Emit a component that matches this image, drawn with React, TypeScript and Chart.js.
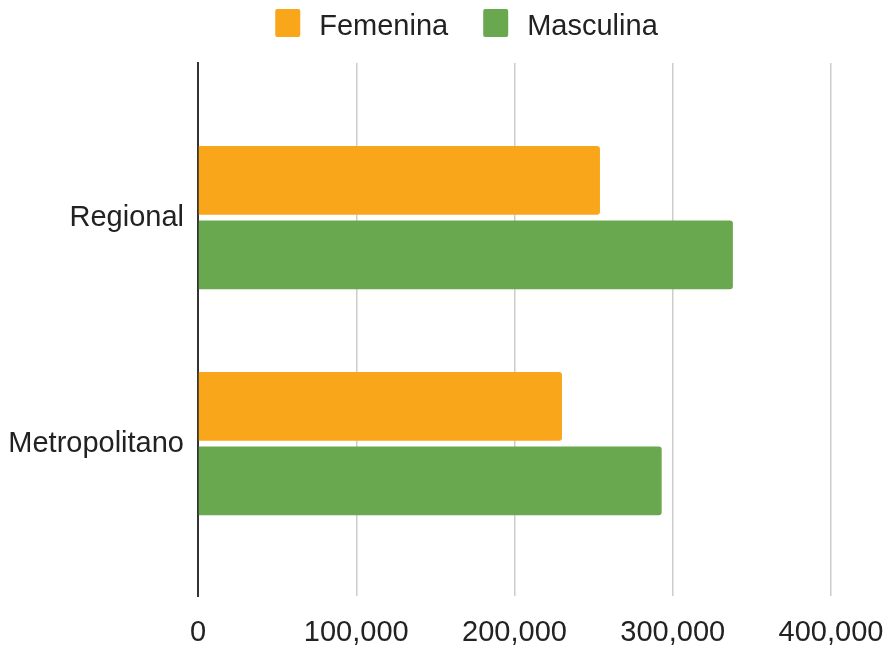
import React, { useEffect, useRef } from 'react';
import { Chart, registerables } from 'chart.js';

Chart.register(...registerables);

// ---- data ----
const categories = ['Regional', 'Metropolitano'];
const seriesNames = ['Femenina', 'Masculina'];
const femenina = [254000, 230000];
const masculina = [338000, 293000];
const xTicks = [0, 100000, 200000, 300000, 400000];
const seriesColors = ['#F9A61B', '#6AA84F'];

const FONT_FAMILY = '"Liberation Sans", Arial, Helvetica, sans-serif';
const FONT_SIZE = 29;
const TEXT_COLOR = '#222222';

const legendPlugin = {
  id: 'customLegend',
  afterDraw(chart: any) {
    const ctx = chart.ctx as CanvasRenderingContext2D;
    ctx.save();
    ctx.font = `${FONT_SIZE}px ${FONT_FAMILY}`;
    const boxW = 25;
    const boxH = 28;
    const gapText = 19;
    const gapItem = 35;
    const items = chart.data.datasets.map((ds: any) => ({
      text: ds.label as string,
      color: ds.backgroundColor as string,
      w: ctx.measureText(ds.label).width,
    }));
    const total = items.reduce(
      (s: number, it: any, i: number) => s + boxW + gapText + it.w + (i > 0 ? gapItem : 0),
      0
    );
    let x = chart.width / 2 + 23 - total / 2;
    const top = 9;
    for (const it of items) {
      ctx.fillStyle = it.color;
      ctx.beginPath();
      if ((ctx as any).roundRect) {
        (ctx as any).roundRect(x, top, boxW, boxH, 2);
      } else {
        ctx.rect(x, top, boxW, boxH);
      }
      ctx.fill();
      ctx.fillStyle = TEXT_COLOR;
      ctx.textBaseline = 'alphabetic';
      ctx.textAlign = 'left';
      ctx.fillText(it.text, x + boxW + gapText, 35);
      x += boxW + gapText + it.w + gapItem;
    }
    ctx.restore();
  },
};

export default function App() {
  const ref = useRef<HTMLCanvasElement>(null);

  useEffect(() => {
    document.body.style.margin = '0';
    const font = { family: FONT_FAMILY, size: FONT_SIZE };
    const chart = new Chart(ref.current as HTMLCanvasElement, {
      type: 'bar',
      data: {
        datasets: [
          {
            label: seriesNames[0],
            data: femenina.map((v, i) => ({ x: v, y: i })),
            backgroundColor: seriesColors[0],
          },
          {
            label: seriesNames[1],
            data: masculina.map((v, i) => ({ x: v, y: i })),
            backgroundColor: seriesColors[1],
          },
        ],
      },
      plugins: [legendPlugin],
      options: {
        indexAxis: 'y',
        responsive: false,
        animation: false,
        layout: { padding: { top: 63, left: 0, right: 56, bottom: 0 } },
        datasets: {
          bar: {
            categoryPercentage: 0.66,
            barPercentage: 0.923,
            borderRadius: 3,
            borderWidth: 0,
          },
        },
        plugins: {
          legend: { display: false },
          tooltip: { enabled: false },
        },
        scales: {
          x: {
            type: 'linear',
            position: 'bottom',
            min: 0,
            max: 400000,
            afterBuildTicks: (scale: any) => {
              scale.ticks = xTicks.map((v) => ({ value: v }));
            },
            afterFit: (scale: any) => {
              scale.height = 56;
              scale.paddingLeft = 0;
              scale.paddingRight = 0;
            },
            ticks: {
              font,
              color: TEXT_COLOR,
              padding: 20,
              maxRotation: 0,
              callback: (v: any) => Number(v).toLocaleString('en-US'),
            },
            grid: { color: '#cccccc', lineWidth: 1.5, drawTicks: false },
            border: { display: false },
          },
          y: {
            type: 'linear',
            position: 'left',
            reverse: true,
            offset: false,
            min: -0.685,
            max: 1.675,
            afterBuildTicks: (scale: any) => {
              scale.ticks = categories.map((_, i) => ({ value: i }));
            },
            afterFit: (scale: any) => {
              scale.width = 198;
            },
            ticks: {
              font,
              color: TEXT_COLOR,
              padding: 14,
              callback: (v: any) => categories[Number(v)] ?? '',
            },
            grid: { display: false, drawTicks: false, offset: false },
            border: { display: true, color: '#333333', width: 2 },
          },
        },
      },
    } as any);
    return () => chart.destroy();
  }, []);

  return (
    <canvas
      ref={ref}
      width={887}
      height={652}
      style={{ display: 'block', width: '887px', height: '652px' }}
    />
  );
}
